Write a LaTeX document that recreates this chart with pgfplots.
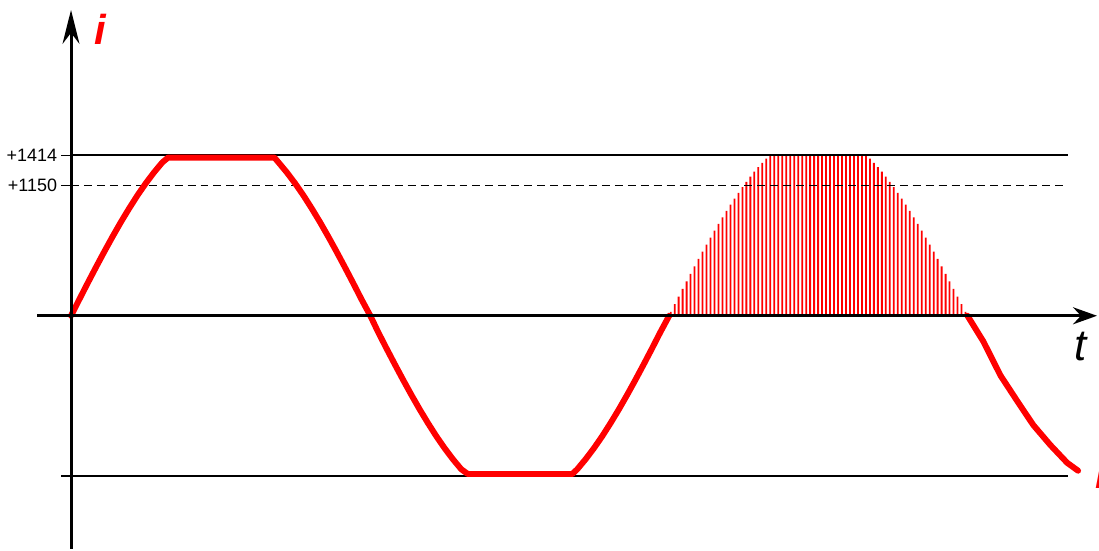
\documentclass[border=0pt]{standalone}
\usepackage{fontspec}
\setmainfont{Liberation Sans}
\usepackage{pgfplots}
\pgfplotsset{compat=1.18}
\usetikzlibrary{arrows.meta}

% clipped current wave, t in degrees
\pgfplotstableread{
t     i
0     0
5     144
10    287
15    427
20    564
25    697
30    825
35    946
40    1061
45    1167
50    1264
55    1352
58.5  1395
122.5 1395
125   1352
130   1264
135   1167
140   1061
145   946
150   825
155   697
160   564
165   427
170   287
175   144
180.3 0
185   -144
190   -287
195   -427
200   -564
205   -697
210   -825
215   -946
220   -1061
225   -1167
230   -1264
235   -1352
239   -1395
302   -1395
305   -1352
310   -1264
315   -1167
320   -1061
325   -946
330   -825
335   -697
340   -564
345   -427
350   -287
355   -144
360.3 0
}\wavea

\pgfplotstableread{
t      i
540    0
549.6  -228
559.8  -525
570    -753
579.6  -963
589.8  -1138
600    -1296
606.6  -1366
}\waveb

% hatched half wave
\pgfplotstableread{
t      i
361.2  34
363.6  102
366.0  169
368.4  237
370.8  304
373.2  370
375.6  436
378.0  501
380.4  565
382.8  628
385.2  690
387.6  751
390.0  810
392.4  868
394.8  925
397.2  979
399.6  1033
402.0  1084
404.4  1134
406.8  1181
409.2  1226
411.6  1270
414.0  1311
416.4  1349
418.8  1386
421.2  1414
423.6  1414
426.0  1414
428.4  1414
430.8  1414
433.2  1414
435.6  1414
438.0  1414
440.4  1414
442.8  1414
445.2  1414
447.6  1414
450.0  1414
452.4  1414
454.8  1414
457.2  1414
459.6  1414
462.0  1414
464.4  1414
466.8  1414
469.2  1414
471.6  1414
474.0  1414
476.4  1414
478.8  1414
481.2  1386
483.6  1349
486.0  1311
488.4  1270
490.8  1226
493.2  1181
495.6  1134
498.0  1084
500.4  1033
502.8  979
505.2  925
507.6  868
510.0  810
512.4  751
514.8  690
517.2  628
519.6  565
522.0  501
524.4  436
526.8  370
529.2  304
531.6  237
534.0  169
536.4  102
538.8  34
}\hatch

\begin{document}
\begin{tikzpicture}
\begin{axis}[
    scale only axis,
    width=549.5pt,
    height=275.5pt,
    xmin=-40.2, xmax=619.2,
    ymin=-2055, ymax=2784,
    axis lines=middle,
    axis line style={draw=none},
    xtick=\empty,
    ytick={-1414,1150,1414},
    yticklabels={,+1150,+1414},
    tick align=outside,
    major tick length=5pt,
    ytick style={black, line width=0.8pt},
    yticklabel style={font=\fontsize{9}{9}\selectfont, xshift=1.5pt},
    clip=false,
]
\path (rel axis cs:0,0) rectangle (rel axis cs:1,1);

\addplot[ybar, bar width=0.9pt, fill=red, draw=none, bar shift=0pt] table {\hatch};

\addplot[black, line width=0.9pt] coordinates {(0,1414) (600.6,1414)};
\addplot[black, line width=0.9pt] coordinates {(0,-1414) (600.6,-1414)};
\addplot[black, line width=0.8pt, dash pattern=on 4pt off 2.5pt] coordinates {(0,1150) (600.6,1150)};

\addplot[red, line width=3pt, line cap=round, line join=round] table {\wavea};
\addplot[red, line width=3pt, line cap=round, line join=round] table {\waveb};

\draw[line width=1.5pt, -{Stealth[length=12pt, width=8.5pt]}]
    (axis cs:-20.4,0) -- (axis cs:618,0);
\draw[line width=1.5pt, -{Stealth[length=17pt, width=8.5pt]}]
    (axis cs:0,-2055) -- (axis cs:0,2696);

\node[red, font=\fontsize{21}{21}\selectfont\itshape\bfseries] at (axis cs:17.4,2529) {i};
\node[black, font=\fontsize{22}{22}\selectfont\itshape] at (axis cs:608.4,-272) {t};
\node[red, overlay, font=\fontsize{21}{21}\selectfont\itshape\bfseries] at (axis cs:620.4,-1388) {i};
\end{axis}
\end{tikzpicture}
\end{document}
